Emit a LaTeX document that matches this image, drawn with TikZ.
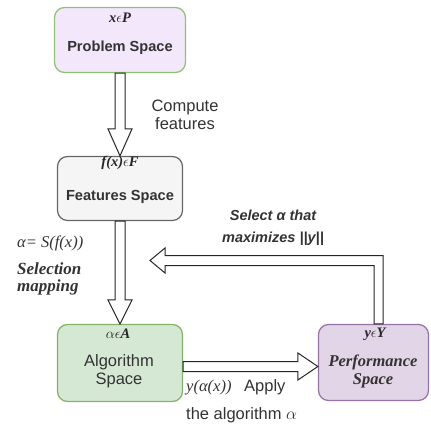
\documentclass[tikz,border=0pt]{standalone}
\usepackage{fontspec}
\setmainfont{Liberation Serif}
\setsansfont{Liberation Sans}
\usetikzlibrary{calc}

\definecolor{probfill}{HTML}{F3E7FC}
\definecolor{probline}{HTML}{8CC46E}
\definecolor{featfill}{HTML}{F5F5F5}
\definecolor{featline}{HTML}{666666}
\definecolor{algfill}{HTML}{D5E8D4}
\definecolor{algline}{HTML}{82B366}
\definecolor{perffill}{HTML}{E1D5E7}
\definecolor{perfline}{HTML}{9673A6}
\definecolor{txtgray}{HTML}{333333}

\tikzset{
  spacebox/.style={draw, line width=1.2pt, rounded corners=10pt, inner sep=0pt},
  flex/.style={draw=black!85, fill=white, line width=1pt, line join=miter},
  symlbl/.style={font=\fontsize{14.5}{16}\selectfont\bfseries\itshape, text=black!85, inner sep=0pt},
  boldlbl/.style={font=\sffamily\bfseries\fontsize{14.6}{18}\selectfont, text=txtgray, inner sep=0pt},
  plainlbl/.style={font=\sffamily\fontsize{16.5}{18}\selectfont, text=txtgray, inner sep=0pt, align=center},
  seriflbl/.style={font=\itshape\fontsize{16.5}{18}\selectfont, text=txtgray, inner sep=0pt, align=center},
}

% vertical block arrow pointing down, from #1 to the tip #2, head length #3
\newcommand\downflex[3]{%
  \draw[flex] ($(#1)+(-5,0)$) -- ($(#2)+(-5,#3)$) -- ($(#2)+(-12,#3)$) -- (#2)
    -- ($(#2)+(12,#3)$) -- ($(#2)+(5,#3)$) -- ($(#1)+(5,0)$) -- cycle;}

\begin{document}
\begin{tikzpicture}[x=1pt, y=1pt]
\useasboundingbox (0,0) rectangle (431,-428);

% the four spaces
\node[spacebox, fill=probfill, draw=probline, minimum width=131pt, minimum height=65pt] (prob) at (120,-40) {};
\node[spacebox, fill=featfill, draw=featline, minimum width=125pt, minimum height=64pt] (feat) at (120,-188.5) {};
\node[spacebox, fill=algfill, draw=algline, minimum width=125pt, minimum height=77pt] (alg) at (120,-363) {};
\node[spacebox, fill=perffill, draw=perfline, minimum width=110pt, minimum height=76pt] (perf) at (373.5,-362.5) {};

% box contents
\node[symlbl] (probsym) at (120,-18) {x$\epsilon$P};
\node[boldlbl] (probtxt) at (120,-48) {Problem Space};
\node[symlbl] (featsym) at (120,-163) {f(x)$\epsilon$F};
\node[boldlbl] (feattxt) at (120,-197) {Features Space};
\node[symlbl] (algsym) at (118,-334) {$\alpha\epsilon$A};
\node[plainlbl] (algtxt) at (119,-371) {Algorithm\\Space};
\node[symlbl] (perfsym) at (375,-334) {y$\epsilon$Y};
\node[seriflbl, font=\bfseries\itshape\fontsize{16.5}{18}\selectfont] (perftxt) at (373,-371) {Performance\\Space};

% block arrows
\downflex{prob.south}{feat.north}{27}
\downflex{feat.south}{alg.north}{24}

\coordinate (hs) at ($(alg.east)+(0,-3.5)$);
\coordinate (ht) at (hs -| perf.west);
\draw[flex] ($(hs)+(0,5)$) -- ($(ht)+(-20,5)$) -- ($(ht)+(-20,13.5)$) -- (ht)
  -- ($(ht)+(-20,-13.5)$) -- ($(ht)+(-20,-5)$) -- ($(hs)+(0,-5)$) -- cycle;

\coordinate (rs) at ($(perf.north)+(5,0)$);
\coordinate (rtip) at (150,-260.5);
\draw[flex] ($(rs)+(-4.5,0)$) -- ($(rs |- rtip)+(-4.5,-5)$) -- ($(rtip)+(15,-5)$)
  -- ($(rtip)+(15,-12.5)$) -- (rtip) -- ($(rtip)+(15,12.5)$) -- ($(rtip)+(15,5)$)
  -- ($(rs |- rtip)+(4.5,5)$) -- ($(rs)+(4.5,0)$) -- cycle;

% arrow captions
\node[plainlbl] (comp) at (185,-115) {Compute\\features};
\node[seriflbl, anchor=west] (selfun) at (17,-243) {α= S(f(x))};
\node[seriflbl, font=\bfseries\itshape\fontsize{17}{17}\selectfont, anchor=north west, align=left] (selmap) at (17,-263) {Selection\\mapping};
\node[font=\sffamily\bfseries\itshape\fontsize{14.5}{22}\selectfont, text=txtgray, align=center, inner sep=0pt] (maxy) at (273,-228) {Select α that\\maximizes ||y||};
\node[seriflbl, anchor=west] (yax) at (186,-388) {y(α(x))};
\node[plainlbl, anchor=west] (apply) at (244,-387) {Apply};
\node[plainlbl, anchor=west] (thealg) at (186,-415) {the algorithm $\alpha$};
\end{tikzpicture}
\end{document}
